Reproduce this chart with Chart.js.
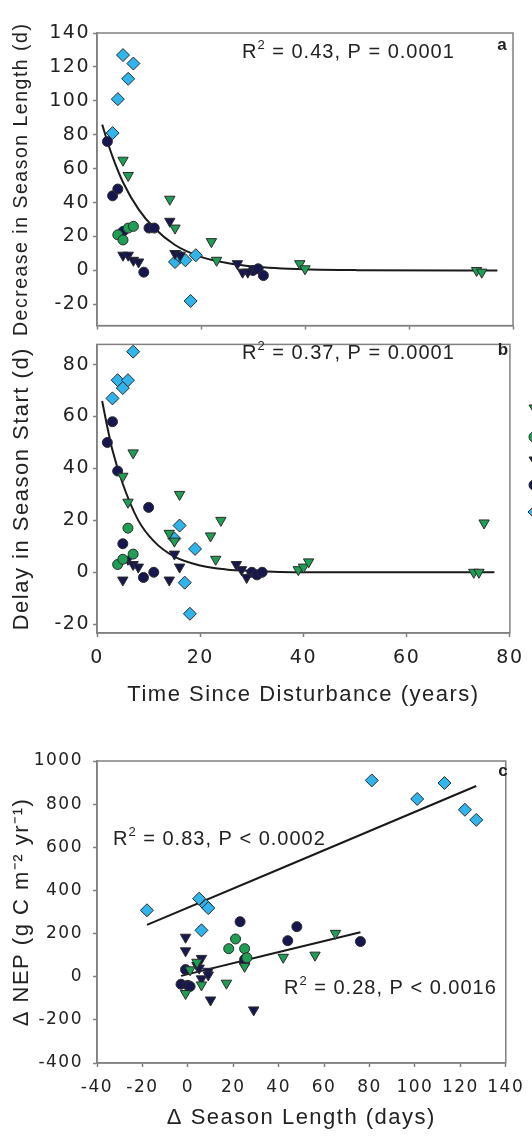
<!DOCTYPE html>
<html>
<head>
<meta charset="utf-8">
<script src="https://cdn.jsdelivr.net/npm/chart.js@4.4.1/dist/chart.umd.min.js"></script>
<style>
  html, body { margin: 0; padding: 0; background: #fff; }
  body { position: relative; width: 532px; height: 1136px; overflow: hidden; }
  canvas { position: absolute; left: 0; }
  #panelA { top: 0; }
  #panelB { top: 330px; }
  #panelC { top: 740px; }
</style>
</head>
<body>
<canvas id="panelA" width="532" height="340"></canvas>
<canvas id="panelB" width="532" height="384"></canvas>
<canvas id="panelC" width="532" height="396"></canvas>
<script>
// ---- data ----
// panel a: decrease in season length (d) vs time since disturbance (years)
const aGreenTriX = [5, 6, 14, 15, 22, 23, 39, 40, 73, 74];
const aGreenTriY = [65, 56, 42, 25, 17, 6, 4, 1, 0, -1];
const aGreenDotX = [4, 5, 6, 7];
const aGreenDotY = [21, 18, 25, 26];
const aNavyTriX = [5, 6, 7, 8, 14, 15, 16, 27, 28, 29];
const aNavyTriY = [9, 9, 6, 5, 29, 10, 9, 4, -1, -1];
const aNavyDotX = [2, 3, 4, 5, 9, 10, 11, 30, 31, 32];
const aNavyDotY = [76, 44, 48, 23, -1, 25, 25, 0, 1, -3];
const aCyanX = [3, 4, 5, 6, 7, 15, 16, 17, 18, 19];
const aCyanY = [81, 101, 127, 113, 122, 5, 8, 6, -18, 9];
const aFitX = [1, 2, 3, 5, 8, 11, 15, 20, 25, 30, 40, 50, 77];
const aFitY = [86, 76, 67, 52, 36, 25, 15, 8, 4.4, 2.4, 0.7, 0.2, 0];

// panel b: delay in season start (d)
const bGreenTriX = [5, 6, 7, 14, 15, 16, 22, 23, 24, 39, 40, 41, 73, 74, 75];
const bGreenTriY = [37, 27, 46, 15, 12, 30, 14, 5, 20, 1, 2, 4, 0, 0, 19];
const bGreenDotX = [4, 5, 6, 7];
const bGreenDotY = [3, 5, 17, 7];
const bNavyTriX = [5, 6, 7, 8, 14, 15, 16, 27, 28, 29];
const bNavyTriY = [-3, 5, 3, 2, -3, 7, 2, 3, 1, -2];
const bNavyDotX = [2, 3, 4, 5, 9, 10, 11, 30, 31, 32];
const bNavyDotY = [50, 58, 39, 11, -2, 25, 0, 0, -1, 0];
const bCyanX = [3, 4, 5, 6, 7, 15, 16, 17, 18, 19];
const bCyanY = [67, 74, 71, 74, 85, 13, 18, -4, -16, 9];
const bFitX = [1, 2, 3, 5, 8, 11, 15, 20, 25, 30, 40, 77];
const bFitY = [66, 56, 47, 34, 20, 12, 6, 2.6, 1.1, 0.5, 0, 0];

// panel c: delta NEP vs delta season length (days)
const cGreenTriX = [-1, 1, 4, 6, 17, 25, 42, 56, 65];
const cGreenTriY = [-78, 32, 67, -38, -30, 48, 90, 100, 201];
const cGreenDotX = [18, 21, 25, 26];
const cGreenDotY = [130, 175, 130, 88];
const cNavyTriX = [-1, -1, 4, 5, 6, 6, 9, 9, 10, 29];
const cNavyTriY = [183, 120, 52, 40, 85, -10, 25, 8, -108, -154];
const cNavyDotX = [-3, -1, 0, 1, 23, 25, 25, 44, 48, 76];
const cNavyDotY = [-35, 33, -40, -45, 255, 80, 65, 167, 232, 163];
const cCyanX = [-18, 5, 6, 8, 9, 81, 101, 113, 122, 127];
const cCyanY = [308, 362, 215, 330, 318, 910, 824, 898, 774, 727];
const cFitHighX = [-18, 127];
const cFitHighY = [240, 884];
const cFitLowX = [-3, 76];
const cFitLowY = [4, 206];

// tick labels
const timeTicks = [0, 20, 40, 60, 80];
const aYTicks = [-20, 0, 20, 40, 60, 80, 100, 120, 140];
const bYTicks = [-20, 0, 20, 40, 60, 80];
const cXTicks = [-40, -20, 0, 20, 40, 60, 80, 100, 120, 140];
const cYTicks = [-400, -200, 0, 200, 400, 600, 800, 1000];

// ---- styling ----
const GREEN = '#1f9e55', NAVY = '#17174f', CYAN = '#30b4ec', EDGE = '#2b2b2b';
const AXIS = '#808080', TEXT = '#222';
const SANS = "'Liberation Sans', Arial, sans-serif";
const WIDE = "'DejaVu Sans', sans-serif";

function pts(xs, ys) { return xs.map((x, i) => ({ x, y: ys[i] })); }

const markers = {
  gtri: { pointStyle: 'triangle', pointRotation: 180, pointRadius: 6, pointBackgroundColor: GREEN },
  gdot: { pointStyle: 'circle', pointRadius: 5, pointBackgroundColor: GREEN },
  ntri: { pointStyle: 'triangle', pointRotation: 180, pointRadius: 6, pointBackgroundColor: NAVY },
  ndot: { pointStyle: 'circle', pointRadius: 5, pointBackgroundColor: NAVY },
  cyan: { pointStyle: 'rectRot', pointRadius: 6.5, pointBackgroundColor: CYAN }
};

function series(kind, xs, ys) {
  return Object.assign({
    data: pts(xs, ys), pointBorderColor: EDGE, pointBorderWidth: 1, showLine: false, order: 1
  }, markers[kind]);
}

function fit(xs, ys) {
  return {
    data: pts(xs, ys), showLine: true, pointRadius: 0, borderColor: '#1a1a1a', borderWidth: 2,
    cubicInterpolationMode: 'monotone', order: 5
  };
}

function axis(min, max, values, o) {
  return {
    type: 'linear', min, max, position: o.position,
    afterBuildTicks: s => { s.ticks = values.map(v => ({ value: v })); },
    afterFit: s => { if (o.position === 'left') s.width = o.size; else s.height = o.size; },
    grid: { drawOnChartArea: false, drawTicks: true, tickLength: 4, tickColor: AXIS, tickWidth: 1.5 },
    border: { color: AXIS, width: 1.5 },
    ticks: {
      display: o.labels !== false, color: TEXT, font: o.tickFont, padding: o.pad || 3,
      callback: v => String(v)
    },
    title: o.title
      ? { display: true, text: o.title, color: TEXT, font: { family: SANS, size: o.titleSize }, padding: o.titlePad }
      : { display: false }
  };
}

// gray frame round the plot area
const frame = {
  id: 'frame',
  beforeDraw(chart) { chart.ctx.letterSpacing = '1.5px'; },
  beforeDatasetsDraw(chart) {
    const { ctx, chartArea: a } = chart;
    ctx.save();
    ctx.strokeStyle = AXIS;
    ctx.lineWidth = 1.5;
    ctx.strokeRect(a.left, a.top, a.right - a.left, a.bottom - a.top);
    ctx.restore();
  }
};

// R^2 notes and panel letters
const notes = {
  id: 'notes',
  afterDraw(chart, args, opts) {
    const ctx = chart.ctx;
    ctx.save();
    ctx.letterSpacing = '1px';
    ctx.fillStyle = TEXT;
    ctx.textBaseline = 'middle';
    ctx.textAlign = 'left';
    (opts.r2 || []).forEach(n => {
      ctx.font = '20px ' + SANS;
      ctx.fillText('R', n.x, n.y);
      const w = ctx.measureText('R').width;
      ctx.font = '13px ' + SANS;
      ctx.fillText('2', n.x + w, n.y - 7);
      const w2 = ctx.measureText('2').width;
      ctx.font = '20px ' + SANS;
      ctx.fillText(n.text, n.x + w + w2, n.y);
    });
    if (opts.letter) {
      ctx.letterSpacing = '0px';
      ctx.font = 'bold 17px ' + SANS;
      ctx.textAlign = 'center';
      ctx.fillText(opts.letter.text, opts.letter.x, opts.letter.y);
    }
    (opts.legend || []).forEach(m => {
      ctx.fillStyle = m.color;
      ctx.strokeStyle = EDGE;
      ctx.lineWidth = 1;
      ctx.beginPath();
      if (m.shape === 'tri') {
        ctx.moveTo(m.x - 5, m.y - 3); ctx.lineTo(m.x + 5, m.y - 3); ctx.lineTo(m.x, m.y + 5); ctx.closePath();
      } else if (m.shape === 'dot') {
        ctx.arc(m.x, m.y, 5, 0, Math.PI * 2);
      } else {
        ctx.moveTo(m.x - 6, m.y); ctx.lineTo(m.x, m.y - 6); ctx.lineTo(m.x + 6, m.y); ctx.lineTo(m.x, m.y + 6); ctx.closePath();
      }
      ctx.fill();
      ctx.stroke();
    });
    ctx.restore();
  }
};

const baseOpts = {
  responsive: false,
  animation: false,
  events: [],
  plugins: { legend: { display: false }, tooltip: { enabled: false } }
};

new Chart('panelA', {
  type: 'scatter',
  data: {
    datasets: [
      fit(aFitX, aFitY),
      series('gtri', aGreenTriX, aGreenTriY),
      series('gdot', aGreenDotX, aGreenDotY),
      series('ntri', aNavyTriX, aNavyTriY),
      series('ndot', aNavyDotX, aNavyDotY),
      series('cyan', aCyanX, aCyanY)
    ]
  },
  options: Object.assign({}, baseOpts, {
    layout: { padding: { top: 33, right: 19, left: 0, bottom: 0 } },
    scales: {
      x: axis(0, 80, timeTicks, { position: 'bottom', size: 7, labels: false }),
      y: axis(-32.5, 140, aYTicks, {
        position: 'left', size: 97, tickFont: { family: WIDE, size: 19 }, pad: 3,
        title: 'Decrease in Season Length (d)', titleSize: 19.5, titlePad: { top: 10, bottom: 0 }
      })
    },
    plugins: Object.assign({}, baseOpts.plugins, {
      notes: { r2: [{ x: 242, y: 52, text: ' = 0.43, P = 0.0001' }], letter: { text: 'a', x: 502, y: 45 } }
    })
  }),
  plugins: [frame, notes]
});

new Chart('panelB', {
  type: 'scatter',
  data: {
    datasets: [
      fit(bFitX, bFitY),
      series('gtri', bGreenTriX, bGreenTriY),
      series('gdot', bGreenDotX, bGreenDotY),
      series('ntri', bNavyTriX, bNavyTriY),
      series('ndot', bNavyDotX, bNavyDotY),
      series('cyan', bCyanX, bCyanY)
    ]
  },
  options: Object.assign({}, baseOpts, {
    layout: { padding: { top: 4, right: 19, left: 0, bottom: 0 } },
    scales: {
      x: axis(0, 80, timeTicks, {
        position: 'bottom', size: 81, tickFont: { family: WIDE, size: 19 }, pad: 10,
        title: 'Time Since Disturbance (years)', titleSize: 22, titlePad: { top: 0, bottom: 6 }
      }),
      y: axis(-23.4, 87.8, bYTicks, {
        position: 'left', size: 97, tickFont: { family: WIDE, size: 19 }, pad: 3,
        title: 'Delay in Season Start (d)', titleSize: 22, titlePad: { top: 9, bottom: 0 }
      })
    },
    plugins: Object.assign({}, baseOpts.plugins, {
      notes: {
        r2: [{ x: 242, y: 23, text: ' = 0.37, P = 0.0001' }],
        letter: { text: 'b', x: 503, y: 20 },
        legend: [
          { shape: 'tri', color: GREEN, x: 534, y: 78 },
          { shape: 'dot', color: GREEN, x: 534, y: 107 },
          { shape: 'tri', color: NAVY, x: 534, y: 130 },
          { shape: 'dot', color: NAVY, x: 534, y: 155 },
          { shape: 'dia', color: CYAN, x: 534, y: 182 }
        ]
      }
    })
  }),
  plugins: [frame, notes]
});

new Chart('panelC', {
  type: 'scatter',
  data: {
    datasets: [
      fit(cFitHighX, cFitHighY),
      fit(cFitLowX, cFitLowY),
      series('gtri', cGreenTriX, cGreenTriY),
      series('gdot', cGreenDotX, cGreenDotY),
      series('ntri', cNavyTriX, cNavyTriY),
      series('ndot', cNavyDotX, cNavyDotY),
      series('cyan', cCyanX, cCyanY)
    ]
  },
  options: Object.assign({}, baseOpts, {
    layout: { padding: { top: 21, right: 19, left: 0, bottom: 0 } },
    scales: {
      x: axis(-40, 140, cXTicks, {
        position: 'bottom', size: 73, tickFont: { family: WIDE, size: 17 }, pad: 10,
        title: '\u0394 Season Length (days)', titleSize: 22, titlePad: { top: 0, bottom: 5 }
      }),
      y: axis(-400, 1000, cYTicks, {
        position: 'left', size: 97, tickFont: { family: WIDE, size: 17 }, pad: 10,
        title: '\u0394 NEP (g C m\u207B\u00B2 yr\u207B\u00B9)', titleSize: 22, titlePad: { top: 9, bottom: 0 }
      })
    },
    plugins: Object.assign({}, baseOpts.plugins, {
      notes: {
        r2: [
          { x: 113, y: 99, text: ' = 0.83, P < 0.0002' },
          { x: 284, y: 248, text: ' = 0.28, P < 0.0016' }
        ],
        letter: { text: 'c', x: 503, y: 31 }
      }
    })
  }),
  plugins: [frame, notes]
});
</script>
</body>
</html>
